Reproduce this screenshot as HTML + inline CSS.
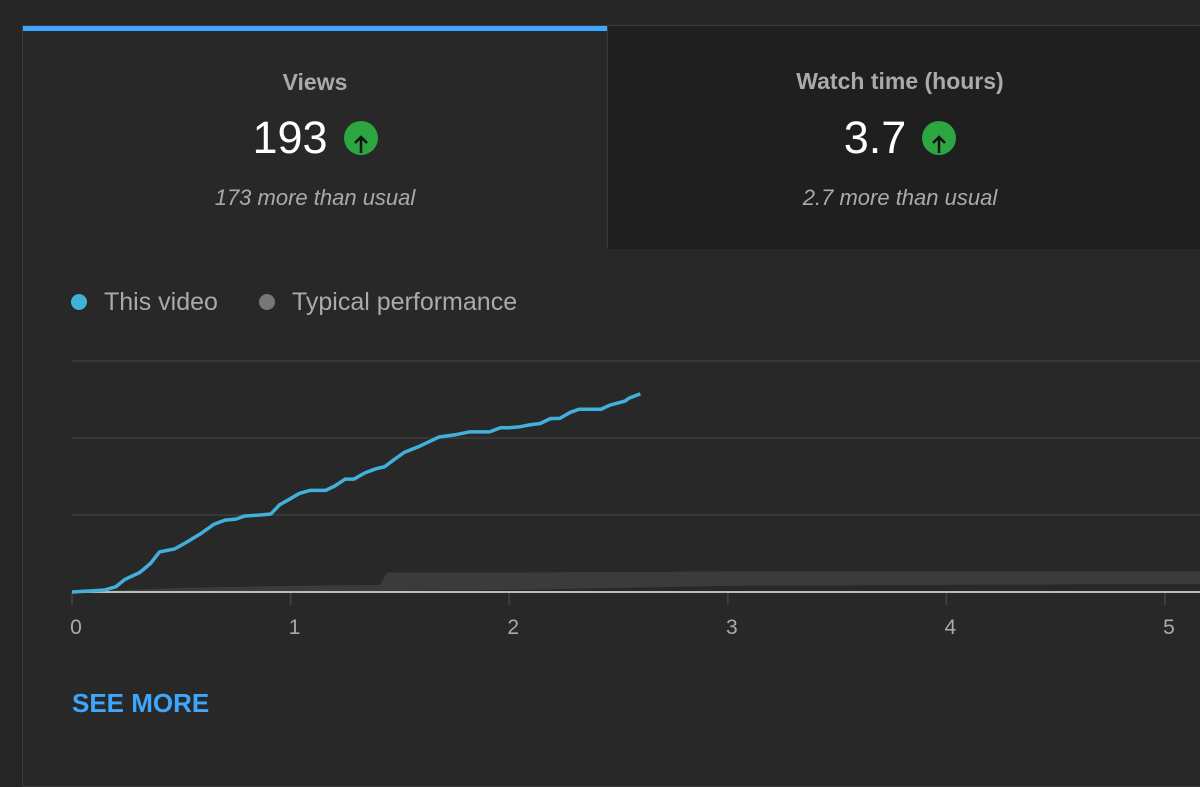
<!DOCTYPE html>
<html><head><meta charset="utf-8"><style>
body{margin:0;width:1200px;height:762px;background:#262626;overflow:hidden;font-family:"Liberation Sans",sans-serif;position:relative}
.panel{position:absolute;left:22px;top:25px;width:1190px;height:760px;border:1px solid #3a3a3a;background:#282828}
.card{position:absolute;top:0;height:223px;text-align:center}
.t{position:absolute;width:100%;top:42px;font-size:23px;color:#aaa;font-weight:bold}
.v{position:absolute;width:100%;top:86px;height:52px;font-size:45px;color:#fff;display:flex;justify-content:center;align-items:center}
.v span.ic{display:inline-block;width:34px;height:34px;border-radius:50%;background:#2ba640;margin-left:16px;position:relative}
.s{position:absolute;width:100%;top:160px;font-size:22px;color:#aaa;font-style:italic}
</style></head><body>
<div class="panel">
 <div class="card" style="left:0;width:584px;background:#282828;border-top:5px solid #3ea6ff;top:0;height:218px">
  <div class="t" style="top:38px">Views</div>
  <div class="v" style="top:81px">193<span class="ic"><svg width="34" height="34"><path d="M17 25V10M11 15l6-6 6 6" stroke="#111" stroke-width="2.5" fill="none"/></svg></span></div>
  <div class="s" style="top:154px">173 more than usual</div>
 </div>
 <div class="card" style="left:584px;width:584px;background:#1f1f1f;border-left:1px solid #3a3a3a;box-shadow:40px 0 0 #1f1f1f">
  <div class="t">Watch time (hours)</div>
  <div class="v">3.7<span class="ic"><svg width="34" height="34"><path d="M17 25V10M11 15l6-6 6 6" stroke="#111" stroke-width="2.5" fill="none"/></svg></span></div>
  <div class="s" style="top:159px">2.7 more than usual</div>
 </div>
</div>
<svg id="chart" width="1200" height="762" style="position:absolute;left:0;top:0"></svg>
<div style="position:absolute;left:72px;top:688px;color:#3ea6ff;font-size:26px;font-weight:bold">SEE MORE</div>
<script>
const thisT=[0,.08,.15,.20,.24,.31,.36,.40,.47,.52,.59,.65,.70,.75,.79,.86,.91,.95,1.00,1.04,1.09,1.16,1.20,1.25,1.29,1.34,1.39,1.43,1.48,1.52,1.59,1.64,1.68,1.75,1.82,1.91,1.96,2.00,2.05,2.10,2.14,2.19,2.23,2.28,2.32,2.42,2.46,2.53,2.55,2.60];
const thisV=[0,1,2,5,12,19,28,39,42,48,57,66,70,71,74,75,76,85,91,96,99,99,103,110,110,116,120,122,130,136,142,147,151,153,156,156,160,160,161,163,164,169,169,175,178,178,182,186,189,193];
const typT=[0,0.5,1.0,1.41,1.44,2,3,5.3];
const typHigh=[0,4,6,7,19,19,20,20];
const typLow=[0,0,1,1,1,2,6,8];
const xTicks=[0,1,2,3,4,5];
const yGrid=[75,150,225];
const X=t=>72+t*218.6, Y=v=>592-v*77/75;
const svg=document.getElementById('chart'),NS='http://www.w3.org/2000/svg';
function mk(tag,a){const e=document.createElementNS(NS,tag);for(const k in a)e.setAttribute(k,a[k]);svg.appendChild(e);return e;}
yGrid.forEach(v=>{const l=mk('line',{x1:72,x2:1200,y1:Y(v),y2:Y(v),stroke:'#3d3d3d','stroke-width':1.5});

});
let d='M'+typT.map((t,i)=>X(t)+','+Y(typHigh[i])).join('L');
for(let i=typT.length-1;i>=0;i--)d+='L'+X(typT[i])+','+Y(typLow[i]);
const band=mk('path',{d:d+'Z',fill:'#3b3b3b'});


const ax=mk('line',{x1:72,x2:1200,y1:592,y2:592,stroke:'#bbb','stroke-width':2});


xTicks.forEach(t=>{const tk=mk('line',{x1:X(t),x2:X(t),y1:593,y2:605,stroke:'#444','stroke-width':1.5});


const tx=mk('text',{x:X(t)+4,y:634,fill:'#aaa','font-size':21,'text-anchor':'middle','font-family':'Liberation Sans'});tx.textContent=t;

});
const ln=mk('polyline',{points:thisT.map((t,i)=>X(t)+','+Y(thisV[i])).join(' '),fill:'none',stroke:'#41b0da','stroke-width':3.5,'stroke-linejoin':'round'});


[[79,'#41b0da','This video',104],[267,'#777','Typical performance',292]].forEach(([cx,c,s,tx])=>{
const g=mk('circle',{cx:cx,cy:302,r:8,fill:c});


const t=mk('text',{x:tx,y:310,fill:'#aaa','font-size':25,'font-family':'Liberation Sans'});t.textContent=s;

});
</script>
</body></html>
